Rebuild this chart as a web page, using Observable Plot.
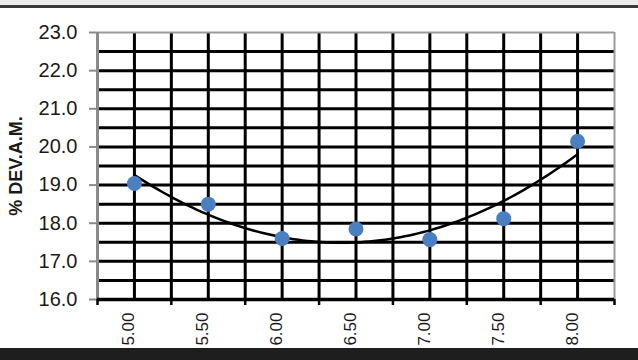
<!DOCTYPE html>
<html>
<head>
<meta charset="utf-8">
<script src="https://cdn.jsdelivr.net/npm/d3@7"></script>
<script src="https://cdn.jsdelivr.net/npm/@observablehq/plot@0.6"></script>
<style>
  html, body { margin: 0; padding: 0; background: #fff; }
  #wrap { position: relative; width: 638px; height: 360px; overflow: hidden; font-family: "Liberation Sans", Arial, sans-serif; }
  #topstrip { position: absolute; left: 0; top: 0; width: 638px; height: 5px; background: #ececec; }
  #topline { position: absolute; left: 0; top: 5px; width: 638px; height: 3px; background: #3a3a3a; }
  #bottomband { position: absolute; left: 0; top: 348px; width: 638px; height: 12px; background: #1e1e1e; }
  svg { position: absolute; left: 0; top: 0; }
</style>
</head>
<body>
<div id="wrap">
  <div id="chart"></div>
  <div id="topstrip"></div>
  <div id="topline"></div>
  <div id="bottomband"></div>
</div>
<script>
// Data
const asphaltPct = [5.00, 5.50, 6.00, 6.50, 7.00, 7.50, 8.00];
const vamPct     = [19.04, 18.50, 17.60, 17.85, 17.57, 18.12, 20.15];
const yTickValues = [16, 17, 18, 19, 20, 21, 22, 23];
const yTitle = "% DEV.A.M.";

const points = asphaltPct.map((x, i) => ({x, y: vamPct[i]}));

// Second-order polynomial trendline (least squares fit of the data, as Excel does)
function polyFit2(xs, ys) {
  const xm = d3.mean(xs);
  const t = xs.map(x => x - xm);
  const n = xs.length;
  const S = k => d3.sum(t, v => v ** k);
  const Sy = k => d3.sum(t, (v, i) => v ** k * ys[i]);
  const M = [[n, S(1), S(2)], [S(1), S(2), S(3)], [S(2), S(3), S(4)]];
  const r = [Sy(0), Sy(1), Sy(2)];
  for (let i = 0; i < 3; i++) {
    for (let j = i + 1; j < 3; j++) {
      const f = M[j][i] / M[i][i];
      for (let k = i; k < 3; k++) M[j][k] -= f * M[i][k];
      r[j] -= f * r[i];
    }
  }
  const c = r[2] / M[2][2];
  const b = (r[1] - M[1][2] * c) / M[1][1];
  const a = (r[0] - M[0][1] * b - M[0][2] * c) / M[0][0];
  return x => a + b * (x - xm) + c * (x - xm) ** 2;
}
const fit = polyFit2(asphaltPct, vamPct);
const xMin = d3.min(asphaltPct), xMax = d3.max(asphaltPct);
const trend = d3.range(0, 101).map(i => {
  const x = xMin + (xMax - xMin) * i / 100;
  return {x, y: fit(x)};
});

// Excel-style category axis: each category is one band of width `catWidth`
const catWidth = asphaltPct[1] - asphaltPct[0];
const half = catWidth / 2;
const xDomain = [xMin - half, xMax + half];
const vGridLines = d3.range(0, 2 * (asphaltPct.length - 1) + 1).map(k => xMin + k * half);
const catBounds = d3.range(0, asphaltPct.length + 1).map(k => xMin - half + k * catWidth);
const hGrid = d3.range(16.5, 23, 0.5);
const noLabel = () => "";

const chart = Plot.plot({
  width: 638,
  height: 360,
  marginLeft: 97,
  marginRight: 24,
  marginTop: 32,
  marginBottom: 61,
  style: { fontFamily: "'Liberation Sans', Arial, sans-serif", background: "transparent", color: "#000" },
  x: { domain: xDomain },
  y: { domain: [16, 23] },
  marks: [
    Plot.ruleY(hGrid, { stroke: "#000", strokeWidth: 3 }),
    Plot.ruleX(vGridLines, { stroke: "#000", strokeWidth: 3 }),
    Plot.ruleY([23], { stroke: "#9a9a9a", strokeWidth: 2 }),
    Plot.ruleX([xDomain[1]], { stroke: "#9a9a9a", strokeWidth: 2 }),
    Plot.ruleX([xDomain[0]], { stroke: "#8a8a8a", strokeWidth: 3 }),
    // y axis tick marks
    Plot.axisY(yTickValues, {
      anchor: "left", tickSize: 8, stroke: "#8a8a8a", strokeWidth: 2, tickFormat: noLabel, label: null
    }),
    // y labels
    Plot.text(yTickValues, {
      y: d => d, frameAnchor: "left", textAnchor: "end", dx: -20,
      text: d => d.toFixed(1), fontSize: 20, fill: "#1a1a1a", letterSpacing: "0.8px"
    }),
    Plot.ruleY([16], { stroke: "#000", strokeWidth: 3.5 }),
    // x tick marks at category boundaries
    Plot.axisX(catBounds, {
      anchor: "bottom", tickSize: 6, stroke: "#000", strokeWidth: 2.5, tickFormat: noLabel, label: null
    }),
    // x labels
    Plot.text(asphaltPct, {
      x: d => d, frameAnchor: "bottom", rotate: -90, textAnchor: "end", dy: 13,
      text: d => d.toFixed(2), fontSize: 17, fill: "#1a1a1a"
    }),
    // y title
    Plot.text([yTitle], {
      frameAnchor: "left", textAnchor: "middle", dx: -81, rotate: -90,
      fontSize: 18, fontWeight: "bold", fill: "#1a1a1a"
    }),
    Plot.line(trend, { x: "x", y: "y", stroke: "#000", strokeWidth: 2.5, curve: "linear" }),
    Plot.dot(points, { x: "x", y: "y", r: 7.5, fill: "#4a7fc1", stroke: "none" })
  ]
});
document.getElementById("chart").appendChild(chart);
</script>
</body>
</html>
